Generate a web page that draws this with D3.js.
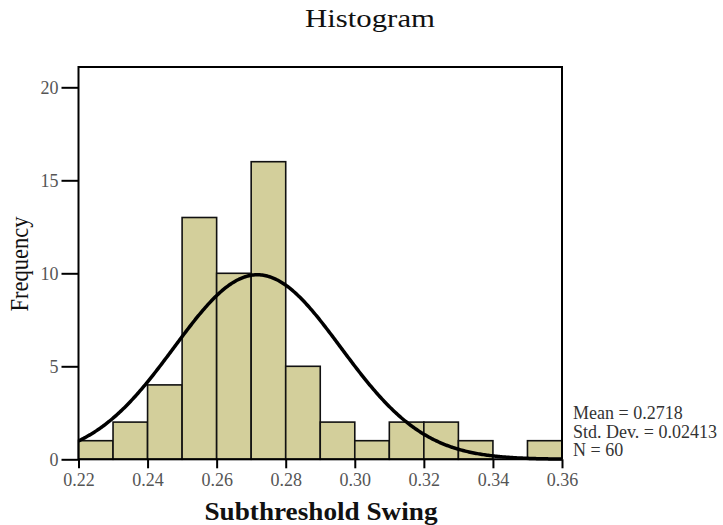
<!DOCTYPE html>
<html><head><meta charset="utf-8">
<script src="https://cdn.jsdelivr.net/npm/d3@7"></script>
<style>body{margin:0;background:#fff}svg{display:block}</style>
</head><body>
<svg id="c" width="723" height="525"></svg>
<script>
const binStarts = [0.22,0.23,0.24,0.25,0.26,0.27,0.28,0.29,0.30,0.31,0.32,0.33,0.34,0.35];
const counts    = [1,2,4,13,10,16,5,2,1,2,2,1,0,1];
const xTicks = [0.22,0.24,0.26,0.28,0.30,0.32,0.34,0.36];
const yTicks = [0,5,10,15,20];
const mean = 0.2718, sd = 0.02413, n = 60, binWidth = 0.01;
const statLines = ["Mean = 0.2718","Std. Dev. = 0.02413","N = 60"];

const svg = d3.select("#c");
const L = 78.5, R = 562, T = 67, B = 459.3;
const x = d3.scaleLinear().domain([0.22,0.36]).range([L,R]);
const y = d3.scaleLinear().domain([0,20]).range([B,87.3]);
const serif = "'Liberation Serif','DejaVu Serif',serif";

// bars
svg.append("g").selectAll("rect").data(binStarts).join("rect")
  .attr("x", d=>x(d)).attr("width", d=>x(d+binWidth)-x(d))
  .attr("y", (d,i)=>y(counts[i])).attr("height",(d,i)=>y(0)-y(counts[i]))
  .attr("fill","#d3cf9b").attr("stroke","#111").attr("stroke-width",1.6);

// fitted normal curve from the stated mean / std. dev.
const pts = d3.range(0,401).map(i=>0.22+i*(0.14/400));
const pdf = v => n*binWidth/(sd*Math.sqrt(2*Math.PI))*Math.exp(-0.5*((v-mean)/sd)**2);
svg.append("path").datum(pts)
  .attr("d", d3.line().x(d=>x(d)).y(d=>y(pdf(d))))
  .attr("fill","none").attr("stroke","#000").attr("stroke-width",3.5);

// frame
svg.append("path").attr("d",`M${L},${B}V${T}H${R}V${B}`).attr("fill","none").attr("stroke","#000").attr("stroke-width",2);

// y axis
const ya = svg.append("g").attr("transform",`translate(${L},0)`)
  .call(d3.axisLeft(y).tickValues(yTicks).tickSize(17).tickPadding(3).tickFormat(d3.format("d")));
ya.select(".domain").remove();
ya.selectAll("line").attr("stroke","#000").attr("stroke-width",2);
ya.selectAll("text").attr("font-family",serif).attr("font-size",18).attr("fill","#555");

// x axis
const xa = svg.append("g").attr("transform",`translate(0,${B})`)
  .call(d3.axisBottom(x).tickValues(xTicks).tickSize(9).tickPadding(5).tickFormat(d3.format(".2f")));
xa.select(".domain").remove();
xa.selectAll("line").attr("stroke","#000").attr("stroke-width",2);
xa.selectAll("text").attr("font-family",serif).attr("font-size",18).attr("fill","#555");
svg.append("line").attr("x1",L).attr("x2",R).attr("y1",B).attr("y2",B).attr("stroke","#000").attr("stroke-width",2);

// titles
svg.append("text").attr("x",370).attr("y",27).attr("text-anchor","middle")
  .attr("font-family",serif).attr("font-size",26).attr("fill","#111")
  .attr("textLength",130).attr("lengthAdjust","spacingAndGlyphs").text("Histogram");
svg.append("text").attr("x",321).attr("y",520).attr("text-anchor","middle")
  .attr("font-family",serif).attr("font-size",26).attr("font-weight","bold").attr("fill","#111")
  .attr("textLength",233).attr("lengthAdjust","spacingAndGlyphs").text("Subthreshold Swing");
svg.append("text").attr("transform","translate(28,264) rotate(-90)").attr("text-anchor","middle")
  .attr("font-family",serif).attr("font-size",25).attr("fill","#111")
  .attr("textLength",95).attr("lengthAdjust","spacingAndGlyphs").text("Frequency");

// stats
svg.append("g").selectAll("text").data(statLines).join("text")
  .attr("x",573).attr("y",(d,i)=>419+i*18.5)
  .attr("font-family",serif).attr("font-size",18).attr("fill","#333").text(d=>d);
</script>
</body></html>
